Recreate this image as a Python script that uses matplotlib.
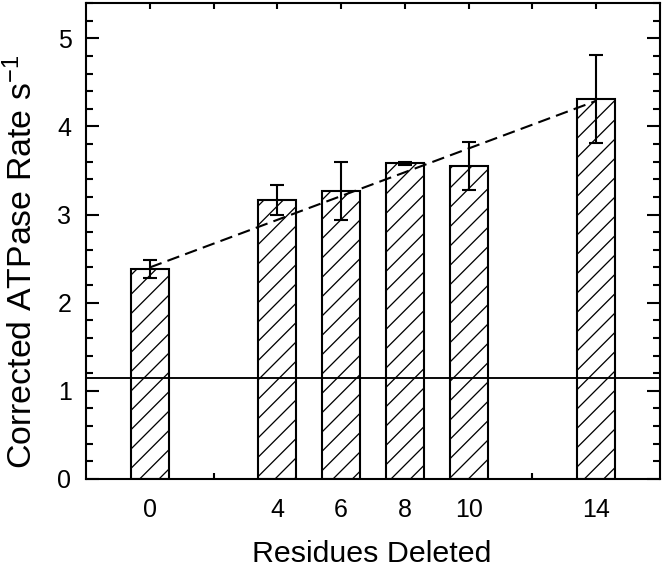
import matplotlib
matplotlib.use("Agg")
import matplotlib.pyplot as plt
from matplotlib.ticker import MultipleLocator

plt.rcParams['font.family'] = ['Liberation Sans', 'DejaVu Sans']
plt.rcParams['mathtext.fontset'] = 'custom'
plt.rcParams['mathtext.rm'] = 'Liberation Sans'
plt.rcParams['mathtext.it'] = 'Liberation Sans:italic'
plt.rcParams['hatch.linewidth'] = 0.8

# data
residues = [0, 4, 6, 8, 10, 14]
rates = [2.38, 3.17, 3.27, 3.58, 3.55, 4.31]
errors = [0.10, 0.17, 0.33, 0.02, 0.27, 0.50]
fit_x = [0, 14]
fit_y = [2.40, 4.29]
baseline = 1.15
tick_labels = ["0", "", "4", "6", "8", "10", "", "14"]

dpi = 116
lw = 1.3
fig = plt.figure(figsize=(664 / dpi, 568 / dpi), dpi=dpi)
ax = fig.add_axes([86 / 664, 1 - 479 / 568, (660 - 86) / 664, (479 - 3) / 568])

ax.bar(residues, rates, width=1.2, color="white", edgecolor="black",
       linewidth=lw, hatch="//", zorder=2)
ax.errorbar(residues, rates, yerr=errors, fmt="none", ecolor="black",
            elinewidth=lw, capsize=4.3, capthick=lw, zorder=4)
ax.plot(fit_x, fit_y, color="black", linewidth=lw, linestyle=(0, (6, 3)), zorder=3)
ax.axhline(baseline, color="black", linewidth=lw * 0.9, zorder=3)

ax.set_xlim(-2, 16)
ax.set_ylim(0, 5.4)
ax.set_xticks(range(0, 16, 2))
ax.set_xticklabels(tick_labels)
ax.yaxis.set_major_locator(MultipleLocator(1))
ax.yaxis.set_minor_locator(MultipleLocator(0.2))

ax.tick_params(axis="both", which="both", direction="in", width=lw,
               top=True, right=True, labelsize=15.5)
ax.tick_params(axis="y", which="major", length=8, pad=9)
ax.tick_params(axis="y", which="minor", length=4.3)
ax.tick_params(axis="x", which="major", length=3.7, pad=12)
for s in ax.spines.values():
    s.set_linewidth(lw)

ax.set_xlabel("Residues Deleted", fontsize=18.9)
ax.xaxis.set_label_coords(0.498, -0.128)
ax.set_ylabel("Corrected ATPase Rate s$^{-1}$", fontsize=21)
ax.yaxis.set_label_coords(-0.082, 0.456)

fig.savefig("out.png", dpi=dpi)
